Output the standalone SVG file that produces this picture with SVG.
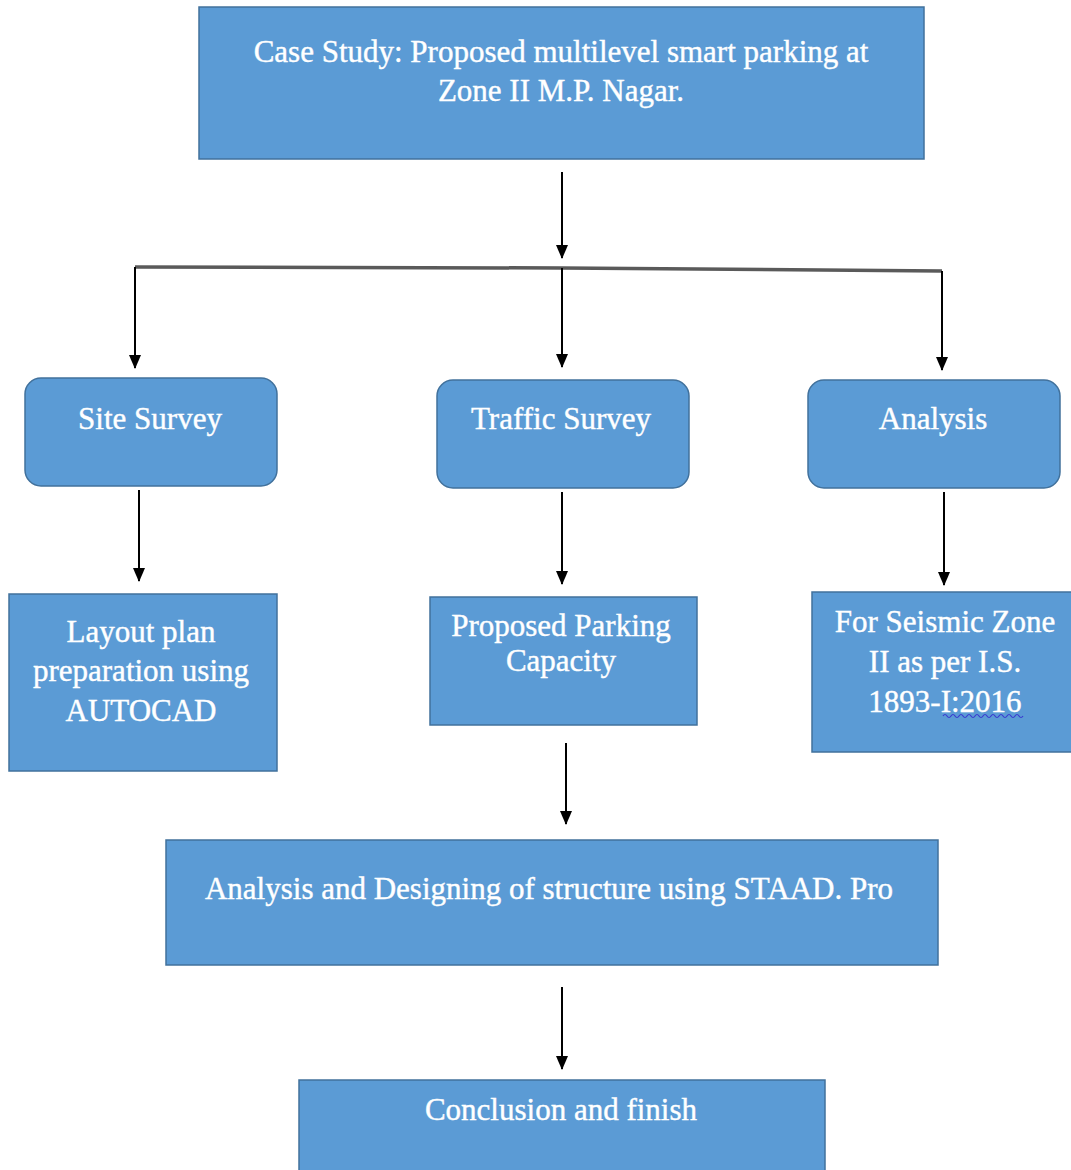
<svg xmlns="http://www.w3.org/2000/svg" width="1071" height="1170" viewBox="0 0 1071 1170">
<defs>
<style>
.box{fill:#5b9bd5;stroke:#41719c;stroke-width:1.5}
.t{font-family:"Liberation Serif","Times New Roman",serif;font-size:31px;fill:#ffffff;stroke:#ffffff;stroke-width:0.4;text-anchor:middle}
.c{stroke:#000;stroke-width:2;fill:none;marker-end:url(#ah)}
.bar{stroke:#5a5a5a;stroke-width:3.5;fill:none}
</style>
<marker id="ah" viewBox="0 0 14 12" refX="13" refY="6" markerWidth="14" markerHeight="12" markerUnits="userSpaceOnUse" orient="auto">
<path d="M0,0 L14,6 L0,12 z" fill="#000"/>
</marker>
</defs>
<rect width="1071" height="1170" fill="#ffffff"/>
<g id="connectors">
<line class="c" x1="562" y1="172" x2="562" y2="258"/>
<path class="bar" d="M135,267 L562,268 L942,271"/>
<line class="c" x1="135" y1="267" x2="135" y2="368"/>
<line class="c" x1="562" y1="268" x2="562" y2="367"/>
<line class="c" x1="942" y1="271" x2="942" y2="370"/>
<line class="c" x1="139" y1="490" x2="139" y2="581"/>
<line class="c" x1="562" y1="492" x2="562" y2="584"/>
<line class="c" x1="944" y1="492" x2="944" y2="585"/>
<line class="c" x1="566" y1="743" x2="566" y2="824"/>
<line class="c" x1="562" y1="987" x2="562" y2="1069"/>
</g>
<g id="case-study">
<rect class="box" x="199" y="7" width="725" height="152"/>
<text class="t" x="561" y="62">Case Study: Proposed multilevel smart parking at</text>
<text class="t" x="561" y="101">Zone II M.P. Nagar.</text>
</g>
<g id="site-survey">
<rect class="box" x="25" y="378" width="252" height="108" rx="16"/>
<text class="t" x="150" y="429">Site Survey</text>
</g>
<g id="traffic-survey">
<rect class="box" x="437" y="380" width="252" height="108" rx="16"/>
<text class="t" x="561" y="429">Traffic Survey</text>
</g>
<g id="analysis">
<rect class="box" x="808" y="380" width="252" height="108" rx="16"/>
<text class="t" x="933" y="429">Analysis</text>
</g>
<g id="layout-plan">
<rect class="box" x="9" y="594" width="268" height="177"/>
<text class="t" x="141" y="642">Layout plan</text>
<text class="t" x="141" y="681">preparation using</text>
<text class="t" x="141" y="721">AUTOCAD</text>
</g>
<g id="parking-capacity">
<rect class="box" x="430" y="597" width="267" height="128"/>
<text class="t" x="561" y="636">Proposed Parking</text>
<text class="t" x="561" y="671">Capacity</text>
</g>
<g id="seismic">
<rect class="box" x="812" y="592" width="262" height="160"/>
<text class="t" x="945" y="632">For Seismic Zone</text>
<text class="t" x="945" y="672">II as per I.S.</text>
<text class="t" x="945" y="712">1893-I:2016</text>
<path d="M943,716 q2,-3 4,0 t4,0 t4,0 t4,0 t4,0 t4,0 t4,0 t4,0 t4,0 t4,0 t4,0 t4,0 t4,0 t4,0 t4,0 t4,0 t4,0 t4,0 t4,0 t4,0" stroke="#3a3ad0" stroke-width="1.2" fill="none"/>
</g>
<g id="staad">
<rect class="box" x="166" y="840" width="772" height="125"/>
<text class="t" x="549" y="899">Analysis and Designing of structure using STAAD. Pro</text>
</g>
<g id="conclusion">
<rect class="box" x="299" y="1080" width="526" height="95"/>
<text class="t" x="561" y="1120">Conclusion and finish</text>
</g>
</svg>
